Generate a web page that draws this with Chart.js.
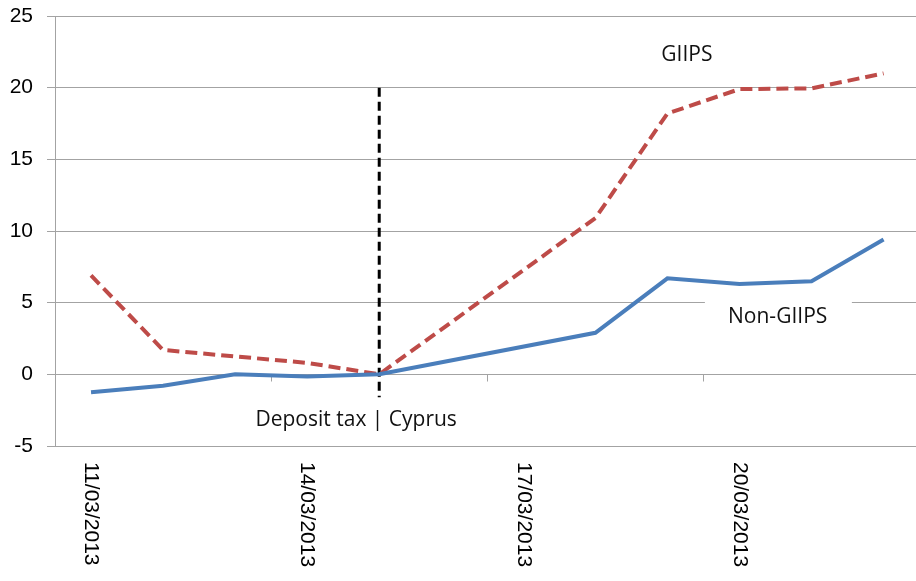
<!DOCTYPE html>
<html>
<head>
<meta charset="utf-8">
<script src="https://cdn.jsdelivr.net/npm/chart.js@4/dist/chart.umd.min.js"></script>
<style>
  html, body { margin: 0; padding: 0; background: #fff; }
  #wrap { width: 916px; height: 581px; }
</style>
</head>
<body>
<div id="wrap"><canvas id="graph" width="916" height="581"></canvas></div>
<script>
// trading days in March 2013 (weekend 16-17 has no data)
const days = [11, 12, 13, 14, 15, 18, 19, 20, 21, 22];
const giips = [6.9, 1.7, 1.25, 0.8, 0, 10.9, 18.2, 19.9, 19.95, 21.0];
const nonGiips = [-1.25, -0.8, 0, -0.15, 0, 2.9, 6.7, 6.3, 6.5, 9.4];

const tickDays = [11, 14, 17, 20];
const tickLabels = ['11/03/2013', '14/03/2013', '17/03/2013', '20/03/2013'];
const minorTicks = [13.5, 16.5, 19.5];

// Deposit tax event line
const eventDay = [15, 15];
const eventRange = [20, -1.6];

const gridColor = '#a3a3a3';

function toPoints(xs, ys) {
  return xs.map((x, i) => ({ x: x, y: ys[i] }));
}

function CreateAnnotationPlugin() {
  return {
    id: 'annotations',
    beforeDatasetsDraw: (chart) => {
      const ctx = chart.ctx;
      const x = chart.scales['x'];
      const y = chart.scales['y'];

      // white box behind the Non-GIIPS label
      const bx0 = x.getPixelForValue(19.52);
      const bx1 = x.getPixelForValue(21.56);
      const by0 = y.getPixelForValue(5.5);
      const by1 = y.getPixelForValue(2.4);
      ctx.save();
      ctx.fillStyle = '#fff';
      ctx.fillRect(bx0, by0, bx1 - bx0, by1 - by0);

      // small tick marks on the zero line
      ctx.strokeStyle = gridColor;
      ctx.lineWidth = 1;
      const y0 = Math.round(y.getPixelForValue(0)) + 0.5;
      minorTicks.forEach(v => {
        const px = Math.round(x.getPixelForValue(v)) + 0.5;
        ctx.beginPath();
        ctx.moveTo(px, y0);
        ctx.lineTo(px, y0 + 7);
        ctx.stroke();
      });
      ctx.restore();
    },
    afterDraw: (chart) => {
      const ctx = chart.ctx;
      const x = chart.scales['x'];
      const y = chart.scales['y'];
      ctx.save();
      ctx.fillStyle = '#111';
      ctx.font = '21px "Open Sans"';
      ctx.textAlign = 'center';
      ctx.textBaseline = 'middle';
      ctx.fillText('GIIPS', x.getPixelForValue(19.27), y.getPixelForValue(22.3));
      ctx.fillText('Non-GIIPS', x.getPixelForValue(20.53), y.getPixelForValue(4.0));
      ctx.fillText('Deposit tax | Cyprus', x.getPixelForValue(14.68), y.getPixelForValue(-3.2));

      // rotated date labels under the plot
      ctx.font = '21px "Liberation Sans"';
      ctx.fillStyle = '#000';
      ctx.textAlign = 'left';
      tickDays.forEach((d, i) => {
        ctx.save();
        ctx.translate(x.getPixelForValue(d), chart.chartArea.bottom + 16);
        ctx.rotate(Math.PI / 2);
        ctx.fillText(tickLabels[i], 0, 0);
        ctx.restore();
      });
      ctx.restore();
    }
  };
}

function CreateChartConfig() {
  return {
    type: 'line',
    data: {
      datasets: [
        {
          label: 'Non-GIIPS',
          data: toPoints(days, nonGiips),
          borderColor: '#4a7ebb',
          borderWidth: 4,
          pointRadius: 0,
          tension: 0,
          fill: false
        },
        {
          label: 'GIIPS',
          data: toPoints(days, giips),
          borderColor: '#be4b48',
          borderWidth: 4,
          borderDash: [12, 6],
          pointRadius: 0,
          tension: 0,
          fill: false
        },
        {
          label: 'Deposit tax',
          data: toPoints(eventDay, eventRange),
          borderColor: '#000',
          borderWidth: 3,
          borderDash: [9, 5],
          pointRadius: 0,
          fill: false
        }
      ]
    },
    options: {
      responsive: false,
      animation: false,
      layout: { padding: { top: 16, bottom: 135, left: 0, right: 0 } },
      plugins: {
        legend: { display: false },
        tooltip: { enabled: false }
      },
      scales: {
        x: {
          type: 'linear',
          min: 10.5,
          max: 22.45,
          afterBuildTicks: (scale) => {
            scale.ticks = tickDays.map(v => ({ value: v }));
          },
          afterFit: (scale) => { scale.height = 0; },
          ticks: { display: false },
          grid: { display: false },
          border: { display: false }
        },
        y: {
          min: -5,
          max: 25,
          ticks: {
            stepSize: 5,
            color: '#000',
            padding: 14,
            font: { family: '"Liberation Sans"', size: 21 }
          },
          afterFit: (scale) => {
            scale.width = 55;
            scale.paddingTop = 0;
            scale.paddingBottom = 0;
          },
          grid: { color: gridColor, lineWidth: 1, tickLength: 8 },
          border: { display: true, color: gridColor, width: 1 }
        }
      }
    },
    plugins: [CreateAnnotationPlugin()]
  };
}

new Chart(document.getElementById('graph'), CreateChartConfig());
</script>
</body>
</html>
